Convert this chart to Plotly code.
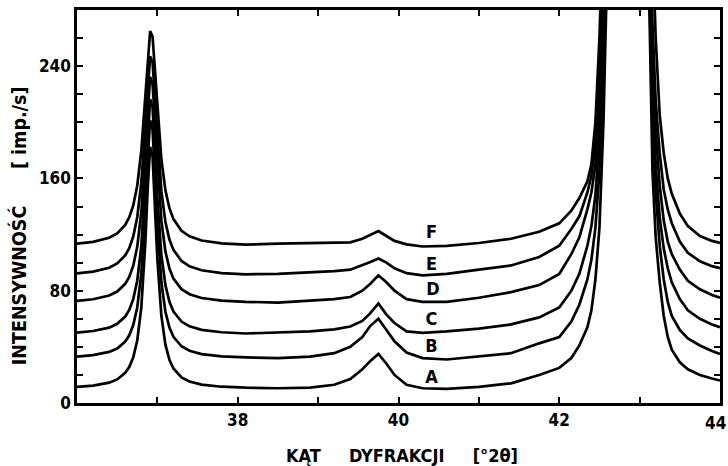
import plotly.graph_objects as go

# 2-theta grid (degrees)
two_theta = [36.0, 36.2, 36.4, 36.5, 36.6, 36.65, 36.7, 36.75, 36.8, 36.85, 36.88, 36.91, 36.94, 36.97, 37.0, 37.05, 37.1, 37.15, 37.2, 37.3, 37.4, 37.55, 37.8, 38.1,
             38.5, 38.9, 39.2, 39.4, 39.55, 39.65, 39.75, 39.85, 39.95, 40.1, 40.3, 40.6, 41.0, 41.4, 41.75,
             42.0, 42.15, 42.25, 42.35, 42.4, 42.45, 42.5, 42.55, 42.6, 42.7, 42.85, 43.0, 43.08, 43.12, 43.16, 43.2, 43.25, 43.3, 43.35, 43.4, 43.5, 43.6, 43.75, 43.9, 44.0]

curve_A = [11.5, 12.4, 14.5, 16.8, 21.5, 25.6, 32.5, 44.7, 68, 114, 153, 182.6, 175.8, 139.7, 102.3, 62, 41.6, 30.8, 24.6, 18.2, 15.3, 13.1, 11.6, 10.9,
           10.5, 11, 13, 17, 24, 30, 35, 28, 20, 13, 10.5, 10, 11.5, 14, 20,
           25, 32, 41, 54, 66, 88, 125, 200, 320, 600, 800, 650, 400, 270, 165, 118, 86, 62, 47, 38, 29, 24, 20, 17.5, 16]
curve_B = [33.1, 34.1, 36.4, 38.8, 43.8, 48.2, 55.5, 68.2, 92, 137.4, 174.4, 201.3, 195.1, 161.9, 126.2, 86, 65, 53.7, 47.1, 40.4, 37.2, 34.8, 33.2, 32.5,
           32, 33, 35.5, 40, 47, 55, 60, 52, 44, 36, 32, 31, 33, 35.5, 42.5,
           47, 58, 70, 88, 102, 125, 165, 240, 340, 620, 820, 670, 420, 300, 200, 150, 112, 88, 72, 62, 52, 46, 41, 37, 35]
curve_C = [50.2, 51.3, 53.7, 56.4, 61.6, 66.3, 74, 87.3, 111.8, 156.5, 191.5, 216.5, 210.9, 180, 145.6, 105.5, 84, 72.1, 65.2, 58, 54.6, 52.1, 50.4, 49.5,
           50, 51, 52.5, 54.5, 58.5, 64, 71, 63, 57, 51, 50, 51, 53, 56, 61,
           68, 80, 92, 112, 126, 148, 190, 265, 360, 640, 840, 690, 440, 320, 225, 170, 132, 110, 96, 86, 74, 66, 60, 56, 54]
curve_D = [72.8, 73.9, 76.6, 79.4, 84.9, 89.8, 97.8, 111.4, 135.9, 178.6, 210.5, 232.3, 227.4, 200, 168.4, 129.7, 108, 95.8, 88.6, 81.1, 77.5, 74.8, 73, 72.1,
           71.5, 73, 74, 75.5, 80, 85, 91, 86, 80, 74, 72, 72, 75, 79, 84,
           92, 106, 118, 138, 150, 170, 215, 290, 380, 660, 860, 710, 460, 340, 250, 195, 155, 130, 115, 106, 95, 87, 81, 77, 75]
curve_E = [92.4, 93.6, 96.4, 99.4, 105.2, 110.3, 118.6, 132.5, 157, 198.1, 227.5, 247, 242.7, 218, 188.5, 150.9, 129, 116.5, 109.1, 101.2, 97.4, 94.6, 92.6, 91.7,
           92, 93, 94, 95, 98, 100.5, 103, 100, 96, 92.5, 91, 92, 95, 98, 104,
           112, 124, 133, 150, 162, 185, 235, 310, 400, 680, 880, 730, 480, 360, 270, 215, 178, 152, 138, 128, 115, 107, 101, 97.5, 96]
curve_F = [113.5, 114.8, 117.7, 120.8, 126.9, 132.3, 140.8, 155, 179.6, 219.5, 247.2, 265, 261.1, 238.3, 210.4, 173.5, 151.5, 138.8, 131, 122.7, 118.7, 115.8, 113.7, 112.8,
           113.5, 114, 114, 114.5, 117, 120, 122.5, 119, 115.5, 113, 111.5, 112, 114, 117, 122,
           128, 137, 146, 158, 170, 200, 260, 340, 420, 700, 900, 750, 500, 400, 330, 260, 205, 178, 160, 149, 135, 126, 119, 115.5, 114]

curve_names = ["A", "B", "C", "D", "E", "F"]
curves = [curve_A, curve_B, curve_C, curve_D, curve_E, curve_F]

label_x = [40.41, 40.41, 40.41, 40.43, 40.41, 40.41]
label_y = [17.5, 39.5, 58.5, 80, 98, 120.5]

nb = "\u00a0"
x_tickvals = [36, 37, 38, 39, 40, 41, 42, 43, 44]
x_ticktext = ["", "", "38", "", "40", "", "42", "", ""]
x_edge_label = "44"   # last x label, placed so it stays inside the page
y_tickvals = [0, 20, 40, 60, 80, 100, 120, 140, 160, 180, 200, 220, 240, 260]
y_ticktext = ["0", "", "", "", "80", "", "", "", "160", "", "", "", "240", ""]

FONT = "DejaVu Sans Condensed, DejaVu Sans, sans-serif"

fig = go.Figure()
for name, ys in zip(curve_names, curves):
    fig.add_trace(go.Scatter(x=two_theta, y=ys, mode="lines", name=name,
                             line=dict(color="black", width=2.7), showlegend=False))

fig.add_trace(go.Scatter(x=label_x, y=label_y, mode="text", text=curve_names,
                         textfont=dict(family=FONT, size=18, color="black", weight="bold"),
                         showlegend=False, cliponaxis=False))

axis_common = dict(showline=True, linecolor="black", linewidth=2.5, mirror="ticks",
                   ticks="inside", ticklen=6, tickwidth=1.5, tickcolor="black",
                   showgrid=False, zeroline=False, automargin=False,
                   ticklabeloverflow="allow",
                   tickfont=dict(family=FONT, size=17, color="black", weight="bold"))

fig.update_xaxes(range=[36, 44], tickvals=x_tickvals, ticktext=x_ticktext, **axis_common)
fig.update_yaxes(range=[0, 280], tickvals=y_tickvals, ticktext=y_ticktext, **axis_common)

fig.add_annotation(xref="x", yref="paper", x=44, y=0, xshift=-5, yshift=-20,
                   text=x_edge_label, showarrow=False, xanchor="center", yanchor="middle",
                   borderpad=0,
                   font=dict(family=FONT, size=17, color="black", weight="bold"))
fig.add_annotation(xref="paper", yref="paper", x=0.505, y=-0.133,
                   text="KĄT" + nb * 5 + "DYFRAKCJI" + nb * 5 + "[°2θ]",
                   showarrow=False, xanchor="center", yanchor="middle",
                   font=dict(family=FONT, size=18, color="black", weight="bold"))
fig.add_annotation(xref="paper", yref="paper", x=-0.09, y=0.45,
                   text="INTENSYWNOŚĆ" + nb * 6 + "[" + nb + "imp./s]",
                   textangle=-90, showarrow=False, xanchor="center", yanchor="middle",
                   font=dict(family=FONT, size=19.5, color="black", weight="bold"))

fig.update_layout(width=728, height=466, margin=dict(l=77, r=8, t=10, b=63),
                  paper_bgcolor="white", plot_bgcolor="white")

fig.write_html("out.html", config={"displayModeBar": False},
               post_script="document.body.style.margin='0px';document.body.style.overflow='hidden';")
